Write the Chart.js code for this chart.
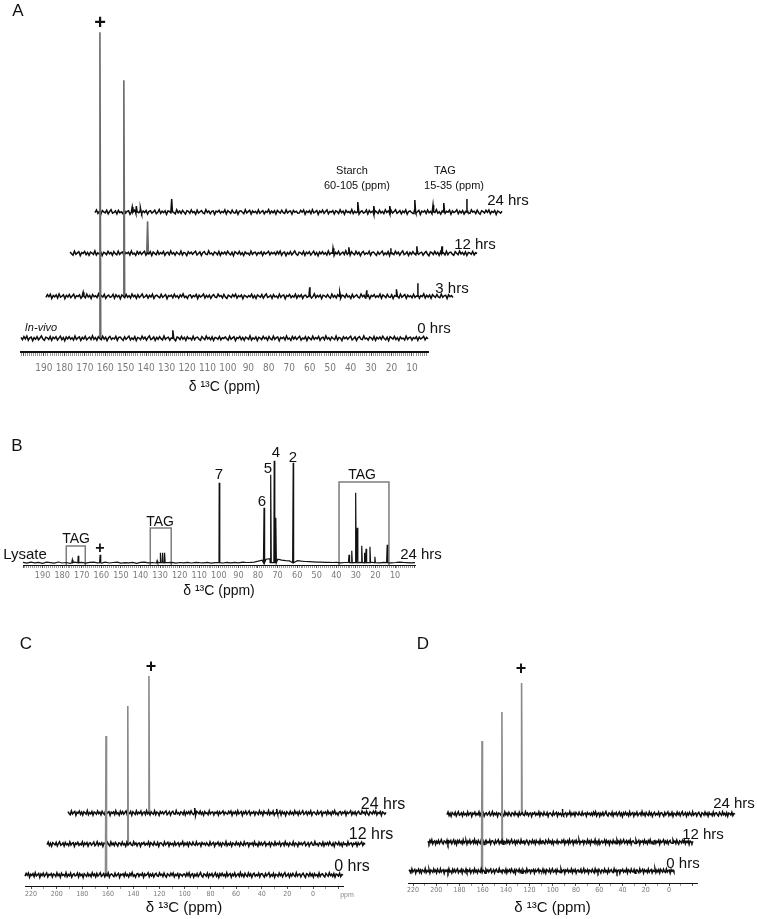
<!DOCTYPE html>
<html>
<head>
<meta charset="utf-8">
<script src="https://cdn.jsdelivr.net/npm/chart.js@4.4.0/dist/chart.umd.min.js"></script>
<style>
  body { margin: 0; background: #fff; width: 757px; height: 919px; position: relative; overflow: hidden;
         font-family: "Liberation Sans", Arial, sans-serif; color: #111; }
  canvas { position: absolute; }
  .lbl { position: absolute; white-space: nowrap; line-height: 1; transform: translate(-50%, -50%); }
</style>
</head>
<body>
<canvas id="chartA" width="757" height="400" style="left:0;top:0;width:757px;height:400px"></canvas>
<canvas id="chartB" width="757" height="200" style="left:0;top:400px;width:757px;height:200px"></canvas>
<canvas id="chartC" width="400" height="319" style="left:0;top:600px;width:400px;height:319px"></canvas>
<canvas id="chartD" width="367" height="319" style="left:390px;top:600px;width:367px;height:319px"></canvas>
<script>
// ---- data (ppm, intensity) ----

// baseline noise
const noise1 = [0.9,-1.4,1.8,-0.6,2.2,-1.9,0.4,1.2,-2.3,0.7,-1.0,1.6,-1.5,0.3,2.4,-0.8,-2.0,1.1,0.5,-1.2,
  1.9,-2.1,1.0,-0.4,1.5,-1.7,0.2,2.1,-1.4,0.8,-2.5,1.3,-0.6,1.7,-0.9,0.6,-1.8,2.3,-1.1,0.4,
  1.4,-2.2,0.9,-0.7,2.0,-1.6,0.1,1.2,-1.3,2.5,-1.0,0.7,-1.9,1.6,-0.3,-1.5,2.1,-0.8,1.1,-2.4,
  0.5,1.8,-1.2,0.3,-0.7,1.9,-2.0,1.0,1.3,-0.5,-2.1,1.5,-0.9,0.6,2.2,-1.7,0.4,-1.1,1.7,-2.3,
  0.8,0.2,-1.4,2.0,-0.6,1.2,-1.8,0.7,2.4,-1.3,-0.3,1.4,-2.2,0.9,-1.0,1.6,-0.4,-1.6,2.3,-1.1,
  0.5,1.1,-1.9,0.3,1.8,-0.7,-2.5,1.3,0.6,-1.2,1.9,-0.8,1.0,-2.1,1.5,-0.5,0.4,-1.7,2.1,-1.4,
  0.7,1.2,-0.9,-2.0,1.7,0.1,-1.3,2.2,-0.6,0.8,-1.5,1.4,-2.2,0.9,0.3,-1.0,1.8,-1.6,0.5,-0.2];
const noise2 = [-1.1,1.6,-0.3,2.0,-2.2,0.8,-0.5,1.3,-1.7,2.3,-0.9,0.2,1.5,-2.4,1.0,-0.6,1.8,-1.3,0.4,2.1,
  -1.8,0.6,-0.2,1.4,-2.0,1.1,0.3,-1.5,2.2,-0.7,0.9,-2.3,1.7,-0.4,0.5,-1.2,2.4,-1.6,0.7,-0.8,
  1.9,-2.1,0.2,1.2,-1.0,-0.3,2.0,-1.9,1.5,-0.6,0.8,-2.5,1.3,0.1,-1.4,1.8,-0.9,0.6,-1.7,2.2,
  -0.5,1.0,-2.0,1.6,-1.1,0.4,2.3,-1.3,-0.2,1.4,-1.8,0.9,-0.7,2.1,-2.2,0.5,1.1,-0.4,-1.6,1.9,
  -1.0,0.3,1.7,-2.4,0.8,-0.1,1.2,-1.5,2.0,-0.8,0.6,-1.9,1.4,-0.5,2.4,-1.2,0.2,-2.1,1.0,1.5,
  -1.4,0.7,-0.3,1.8,-2.3,1.1,-0.6,0.4,2.2,-1.7,0.9,-1.0,1.3,-2.0,0.5,1.6,-0.9,-1.3,2.1,-0.2,
  0.8,-1.6,1.9,-0.7,-2.2,1.2,0.3,-1.1,1.7,-0.4,2.0,-1.8,0.6,-0.5,1.4,-2.4,1.0,0.2,-1.2,0.7];
const noise3 = [1.3,-0.5,-1.8,2.1,-1.0,0.4,1.6,-2.3,0.7,-0.2,1.9,-1.4,0.9,-2.0,1.2,0.3,-1.1,2.4,-1.7,0.5,
  -0.8,1.5,-2.2,1.0,0.1,-1.3,2.0,-0.6,0.8,-1.9,1.7,-0.4,-1.5,2.2,-1.0,0.6,1.3,-2.4,0.9,-0.3,
  1.1,-1.6,2.3,-0.9,0.2,-2.1,1.8,-0.7,1.4,-1.2,0.5,2.0,-1.8,0.3,-0.6,1.6,-2.2,1.2,-0.1,-1.4,
  2.1,-1.1,0.7,-0.5,1.9,-2.0,0.4,1.0,-1.5,2.3,-0.8,0.6,-1.9,1.3,-0.2,-1.2,2.2,-1.6,0.9,0.2,
  -2.3,1.5,-0.4,1.1,-1.0,0.8,2.0,-1.7,-0.3,1.4,-2.1,0.6,1.7,-0.9,-1.3,2.4,-0.7,0.3,-1.8,1.2,
  0.5,-1.4,1.8,-2.0,0.9,-0.6,1.3,-1.1,2.1,-0.2,-1.6,1.0,-2.4,1.6,0.4,-0.8,1.9,-1.3,0.7,-2.2,
  1.4,-0.5,0.2,-1.7,2.2,-1.0,0.6,1.1,-1.9,0.8,-0.3,1.5,-2.1,1.2,-0.7,0.4,2.0,-1.5,0.9,-0.4];
const noise4 = [-0.6,2.0,-1.5,0.8,-2.2,1.4,0.2,-0.9,1.7,-1.9,0.5,2.3,-1.2,-0.4,1.1,-2.0,1.6,-0.7,0.3,-1.6,
  2.2,-1.0,0.7,1.3,-2.4,0.9,-0.2,1.8,-1.3,0.4,-0.8,2.1,-1.8,1.0,-0.5,1.5,-2.1,0.6,1.2,-1.1,
  0.1,1.9,-1.7,-0.3,2.4,-1.4,0.8,-0.6,1.3,-2.3,1.0,0.5,-1.0,1.7,-0.4,-1.9,2.2,-0.8,0.9,-1.5,
  1.6,-0.2,-2.0,1.2,0.6,-1.3,2.0,-0.7,0.4,-2.2,1.8,-1.1,0.3,1.4,-0.9,-1.6,2.3,-0.5,1.0,-1.8,
  0.7,1.1,-2.4,0.9,-0.1,1.6,-1.2,0.5,-0.7,2.1,-2.0,1.3,0.2,-1.4,1.9,-0.6,-1.0,1.5,-2.3,0.8,
  1.2,-0.3,-1.7,2.2,-0.9,0.4,1.7,-2.1,1.1,-0.5,0.6,-1.5,2.0,-1.2,0.3,1.4,-1.9,0.7,-0.4,2.4,
  -1.6,0.9,-0.8,1.3,-2.0,1.6,0.1,-1.1,1.8,-0.6,-1.4,2.1,-1.0,0.5,1.0,-2.2,1.5,-0.3,0.8,-1.2];

// A: in-vivo time course
const timesA = ['0 hrs', '3 hrs', '12 hrs', '24 hrs'];
const windowA = [201.2, 2.15];
const peaksA = [
  [[162.6, 306], [126.9, 8]],
  [[183.0, 4], [163.1, 216], [72.2, 9], [57.5, 4], [44.3, 6], [29.6, 7], [19.3, 13]],
  [[163.3, 32], [72.6, 5], [64.8, 6], [44.3, 5], [31.6, 7], [19.3, 7]],
  [[183.0, 5], [181.0, 6], [179.0, 4], [163.7, 13], [72.6, 10], [64.8, 6], [57.0, 6], [44.8, 12],
   [35.9, 7], [30.6, 9], [19.3, 13]]
];

// B: lysate, 24 hrs
const windowB = [200, -0.2];
const baselineB = [0.3,-0.5,0.6,-0.2,0.4,-0.6,0.5,0.1,-0.4,0.7,-0.3,0.2,-0.6,0.5,-0.1,0.4,-0.5,0.3,0.6,-0.2,
  -0.4,0.5,-0.3,0.2,0.6,-0.5,0.1,-0.2,0.4,-0.6,0.3,0.5,-0.1,0.2,-0.3,0.4,-0.2,0.1,0.3,-0.4,
  0.2,-0.1,0.3,-0.3,0.4,0.0,-0.2,0.3,-0.4,0.1,0.2,-0.3,0.4,-0.1,0.3,-0.2,0.5,0.2,0.3,0.6,
  1.5,2.5,3.5,4.0,4.5,3.5,2.5,2.0,1.8,2.5,2.0,1.5,1.2,1.0,0.8,0.6,0.5,0.3,0.4,0.2,
  0.3,-0.1,0.2,0.4,-0.2,0.1,0.3,-0.3,0.2,0.4,0.1,-0.2,0.3,0.5,-0.1,0.2,0.6,0.3,0.1,-0.2,
  0.1];
const peaksB = [[174.8, 3], [171.8, 7], [160.6, 8], [131.5, 2], [129.7, 10], [128.7, 10], [127.7, 10],
  [99.8, 80], [76.9, 55], [73.5, 88], [71.7, 102], [70.9, 45], [62.0, 100],
  [33.5, 8], [32.1, 12], [30.1, 70], [29.3, 35], [27.0, 17], [25.7, 10], [24.8, 14], [22.8, 16],
  [20.3, 6], [14.0, 18]];
const tagRangesB = [[177.9, 168.2], [135.0, 124.3], [38.6, 13.1]];

// C and D: 0, 12, 24 hrs
const timesCD = ['0 hrs', '12 hrs', '24 hrs'];
const windowC = [[224.7, -23.4], [224.7, -23.4], [224.7, -23.4]];
const peaksC = [[[161.5, 139]], [[161.7, 138]], [[161.5, 137], [125.6, 5], [61.7, 4]]];
const windowD = [[223.4, -4.2], [223.4, -4.2], [223.4, -24.0]];
const peaksD = [[[160.7, 130]], [[159.9, 130]], [[159.3, 131], [124.1, 5]]];

// ---- layout (pixels / ppm shifts of the stacked traces) ----
const shiftA = [0, 12.2, 24.0, 36.2], baseA = [13.7, 55.7, 98.7, 140];
const shiftC = [0, 17.2, 33.5], baseC = [11, 42, 73];
const shiftD = [0, 16.3, 32.6], baseD = [12, 41, 69];
const tagTopB = [19, 37, 83];

Chart.defaults.font.family = '"Liberation Sans", Arial, sans-serif';
Chart.defaults.color = '#111';

// points run from high to low ppm (left to right)
function trace(noise, win, peaks, shift, base, w) {
  const pts = noise.map((v, i) => ({ x: win[0] - i * (win[0] - win[1]) / (noise.length - 1) - shift, y: base + v }));
  peaks.forEach(([p, h]) => {
    pts.push({ x: p + w - shift, y: base }, { x: p - shift, y: base + h }, { x: p - w - shift, y: base });
  });
  return pts.sort((a, b) => b.x - a.x);
}
function spike(p, h, shift, base, w) {
  return [{ x: p + w - shift, y: base }, { x: p - shift, y: base + h }, { x: p - w - shift, y: base }];
}
function lineSet(data, color, width) {
  return { data, borderColor: color, borderWidth: width, pointRadius: 0, tension: 0, clip: false, fill: false };
}
// stacked traces: tall bicarbonate lines in grey, everything else in black
function stackSets(noises, wins, peaks, shifts, bases, w, tallColor) {
  const sets = [];
  peaks.forEach((pk, i) => {
    const tall = pk.filter(p => p[1] > 25), small = pk.filter(p => p[1] <= 25);
    sets.push(lineSet(trace(noises[i], wins[i], small, shifts[i], bases[i], w), '#0d0d0d', 1.5));
    tall.forEach(([p, h]) => sets.push(lineSet(spike(p, h, shifts[i], bases[i], w), tallColor, 1.6)));
  });
  return sets;
}

function panelChart(id, p) {
  return new Chart(document.getElementById(id), {
    type: 'line',
    data: { datasets: p.datasets },
    options: {
      responsive: false,
      animation: false,
      events: [],
      layout: { padding: { left: p.left, right: p.right, top: p.top, bottom: 0 } },
      plugins: { legend: { display: false }, tooltip: { enabled: false } },
      scales: {
        y: { display: false, min: 0, max: p.axisY - p.top },
        x: {
          type: 'linear', reverse: true, min: p.min, max: p.max,
          border: { color: '#111', width: p.borderWidth },
          grid: {
            drawOnChartArea: false, tickLength: p.tickLength,
            tickColor: c => (c.tick && c.tick.value % p.major === 0) ? '#555' : '#999'
          },
          ticks: {
            stepSize: p.step, autoSkip: false, maxRotation: 0, includeBounds: false,
            padding: p.tickPad, color: '#7a7a7a', font: p.tickFont,
            callback: v => (v % p.major === 0 && v >= p.labelFrom && v <= p.labelTo) ? String(v) : ''
          },
          title: {
            display: true, text: 'δ ¹³C (ppm)', color: '#111',
            font: { size: p.titleSize }, padding: { top: 0, bottom: p.titlePad }
          },
          afterFit: s => { s.height = p.height - p.axisY; s.paddingLeft = 0; s.paddingRight = 0; }
        }
      }
    }
  });
}

const narrow = '"Liberation Sans Narrow", "DejaVu Sans Condensed", sans-serif';

panelChart('chartA', {
  datasets: stackSets([noise1.concat(noise3), noise2.concat(noise4), noise3.concat(noise1), noise4.concat(noise2)],
    timesA.map(() => windowA), peaksA, shiftA, baseA, 0.4, '#6a6a6a'),
  left: 21, right: 757 - 428, top: 20, axisY: 352, height: 400,
  min: windowA[1], max: windowA[0], borderWidth: 2, tickLength: 4, step: 1, major: 10,
  labelFrom: 10, labelTo: 190, tickPad: 6, tickFont: { family: narrow, size: 10 },
  titleSize: 14, titlePad: 4
});

const setsB = [lineSet(trace(baselineB, windowB, peaksB, 0, 2.3, 0.3), '#111', 1.2)];
tagRangesB.forEach(([a, b], i) => {
  setsB.push(lineSet([{ x: a, y: 0 }, { x: a, y: tagTopB[i] }, { x: b, y: tagTopB[i] }, { x: b, y: 0 }], '#7d7d7d', 1.5));
});
panelChart('chartB', {
  datasets: setsB,
  left: 23, right: 757 - 415, top: 30, axisY: 165, height: 200,
  min: windowB[1], max: windowB[0], borderWidth: 1, tickLength: 3, step: 1, major: 10,
  labelFrom: 10, labelTo: 190, tickPad: 2, tickFont: { family: narrow, size: 9 },
  titleSize: 14, titlePad: 0
});

panelChart('chartC', {
  datasets: stackSets([noise2.concat(noise1), noise4.concat(noise3), noise3.concat(noise2)],
    windowC, peaksC, shiftC, baseC, 0.4, '#8a8a8a'),
  left: 25, right: 400 - 343, top: 50, axisY: 286, height: 319,
  min: -23.4, max: 224.7, borderWidth: 1, tickLength: 3, step: 10, major: 20,
  labelFrom: 0, labelTo: 220, tickPad: 1, tickFont: { family: narrow, size: 7 },
  titleSize: 15, titlePad: 2
});

panelChart('chartD', {
  datasets: stackSets([noise3.concat(noise4), noise1.concat(noise2), noise4.concat(noise1)],
    windowD, peaksD, shiftD, baseD, 0.4, '#8a8a8a'),
  left: 18, right: 367 - 307, top: 50, axisY: 283, height: 319,
  min: -24, max: 224.3, borderWidth: 1, tickLength: 3, step: 10, major: 20,
  labelFrom: 0, labelTo: 220, tickPad: 0, tickFont: { family: narrow, size: 7 },
  titleSize: 15, titlePad: 2
});

// ---- text annotations ----
function label(text, x, y, size, extra) {
  const d = document.createElement('div');
  d.className = 'lbl';
  d.textContent = text;
  d.style.left = x + 'px';
  d.style.top = y + 'px';
  d.style.fontSize = size + 'px';
  if (extra) Object.assign(d.style, extra);
  document.body.appendChild(d);
}
const bold = { fontWeight: 'bold' };

label('A', 18, 10, 17);
label('+', 100, 22, 20, bold);
label('Starch', 352, 170, 11);
label('60-105 (ppm)', 357, 185, 11);
label('TAG', 445, 170, 11);
label('15-35 (ppm)', 454, 185, 11);
label(timesA[3], 508, 199, 15);
label(timesA[2], 475, 243, 15);
label(timesA[1], 452, 287, 15);
label(timesA[0], 434, 327, 15);
label('In-vivo', 41, 327, 11, { fontStyle: 'italic' });

label('B', 17, 445, 17);
label('Lysate', 25, 553, 15);
label('TAG', 76, 538, 14);
label('+', 100, 548, 16, bold);
label('TAG', 160, 521, 14);
label('7', 219, 473, 15);
label('6', 262, 500, 15);
label('5', 268, 467, 15);
label('4', 276, 451, 15);
label('2', 293, 456, 15);
label('TAG', 362, 474, 14);
label('24 hrs', 421, 553, 15);

label('C', 26, 643, 17);
label('+', 151, 666, 18, bold);
label(timesCD[2], 383, 804, 16);
label(timesCD[1], 371, 834, 16);
label(timesCD[0], 352, 866, 16);
label('ppm', 347, 894, 7, { color: '#888' });

label('D', 423, 643, 17);
label('+', 521, 668, 18, bold);
label(timesCD[2], 734, 802, 15);
label(timesCD[1], 703, 833, 15);
label(timesCD[0], 683, 862, 15);
</script>
</body>
</html>
